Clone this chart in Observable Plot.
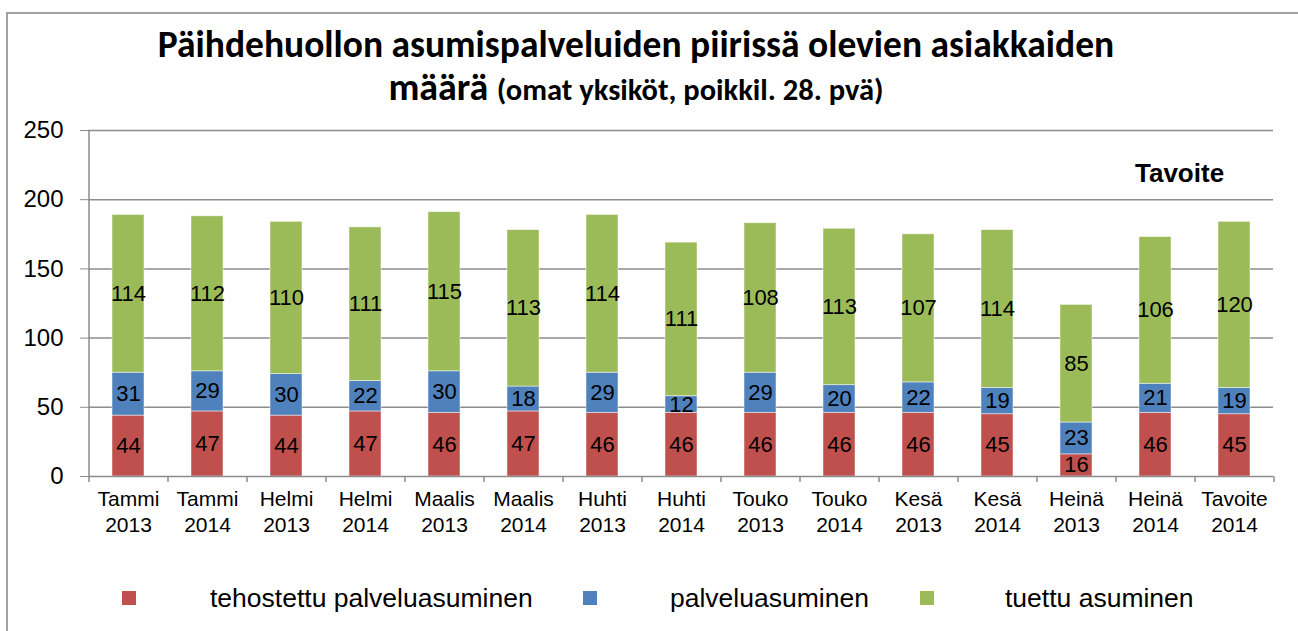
<!DOCTYPE html>
<html>
<head>
<meta charset="utf-8">
<script src="https://cdn.jsdelivr.net/npm/d3@7"></script>
<script src="https://cdn.jsdelivr.net/npm/@observablehq/plot@0.6"></script>
<style>
  html, body { margin: 0; padding: 0; background: #fff; }
  #root { position: relative; width: 1298px; height: 631px; overflow: hidden; font-family: "Liberation Sans", Arial, sans-serif; }
  #frame { position: absolute; left: 6px; top: 12px; width: 1400px; height: 700px; border-top: 2px solid #a3a3a3; border-left: 2px solid #a3a3a3; }
  #title { position: absolute; left: 0; width: 1272px; text-align: center; font-family: Carlito, Lato, "Open Sans", sans-serif; font-weight: bold; color: #000; }
  #title .l1 { position: absolute; left: 0; right: 0; top: 21px; font-size: 37.5px; white-space: nowrap; }
  #title .l2 { position: absolute; left: 0; right: 0; top: 64px; font-size: 38px; white-space: nowrap; }
  #title .l2 small { font-size: 30.5px; }
  #chart { position: absolute; left: 0; top: 100px; }
  #tavoite { position: absolute; left: 1135px; top: 158px; font-weight: bold; font-size: 26px; }
  .leg { position: absolute; top: 583px; font-size: 26.5px; line-height: 30px; white-space: nowrap; }
  .sw { position: absolute; top: 591px; width: 14px; height: 14px; }
</style>
</head>
<body>
<div id="root">
  <div id="frame"></div>
  <div id="title"></div>
  <div id="chart"></div>
  <div id="tavoite"></div>
  <div id="legend"></div>
</div>
<script>
// ---- data ----
const categories = ["Tammi 2013","Tammi 2014","Helmi 2013","Helmi 2014","Maalis 2013","Maalis 2014","Huhti 2013","Huhti 2014","Touko 2013","Touko 2014","Kesä 2013","Kesä 2014","Heinä 2013","Heinä 2014","Tavoite 2014"];
const seriesNames = ["tehostettu palveluasuminen","palveluasuminen","tuettu asuminen"];
const tehostettu = [44,47,44,47,46,47,46,46,46,46,46,45,16,46,45];
const palvelu    = [31,29,30,22,30,18,29,12,29,20,22,19,23,21,19];
const tuettu     = [114,112,110,111,115,113,114,111,108,113,107,114,85,106,120];
const yTicks = [0,50,100,150,200,250];
const titleLine1 = "Päihdehuollon asumispalveluiden piirissä olevien asiakkaiden";
const titleLine2a = "määrä";
const titleLine2b = "(omat yksiköt, poikkil. 28. pvä)";
const annotation = "Tavoite";

// ---- styles / layout ----
const colors = ["#C0504D","#4F81BD","#9BBB59"];
const gridColor = "#8c8c8c";
const W = 1298, H = 440, mL = 88, mR = 25, mT = 30, mB = 64;
const step = (W - mL - mR) / categories.length;

const values = [tehostettu, palvelu, tuettu];
const rows = [];
seriesNames.forEach((s, si) => categories.forEach((c, ci) => rows.push({cat: c, series: s, value: values[si][ci]})));

// title
document.querySelector("#title").innerHTML =
  `<div class="l1">${titleLine1}</div><div class="l2">${titleLine2a} <small>${titleLine2b}</small></div>`;
document.querySelector("#tavoite").textContent = annotation;

const stackOpts = {x: "cat", y: "value", z: "series", order: seriesNames};

const plot = Plot.plot({
  width: W, height: H,
  marginLeft: mL, marginRight: mR, marginTop: mT, marginBottom: mB,
  style: {fontFamily: "'Liberation Sans', Arial, sans-serif", background: "transparent"},
  x: {domain: categories, paddingInner: 0.6, paddingOuter: 0.3, label: null, axis: null},
  y: {domain: [0, 250], label: null, axis: null},
  color: {domain: seriesNames, range: colors},
  marks: [
    Plot.ruleY(yTicks.filter(d => d > 0), {stroke: gridColor, strokeWidth: 1.5}),
    Plot.barY(rows, Plot.stackY({...stackOpts, fill: "series", stroke: "#ffffff", strokeOpacity: 0.6, strokeWidth: 0.8})),
    Plot.text(rows, Plot.stackY({...stackOpts, text: "value", fontSize: 22, fill: "black"})),
    Plot.ruleY([0], {stroke: gridColor, strokeWidth: 1.5}),
    Plot.ruleX([categories[0]], {x: d => d, dx: -step / 2, y1: 0, y2: 250, stroke: gridColor, strokeWidth: 1.5}),
    Plot.ruleX(categories, {x: d => d, dx: -step / 2, y1: 0, y2: 0, insetBottom: -6, stroke: gridColor, strokeWidth: 1.5}),
    Plot.ruleX([categories[categories.length - 1]], {x: d => d, dx: step / 2, y1: 0, y2: 0, insetBottom: -6, stroke: gridColor, strokeWidth: 1.5}),
    Plot.axisY({ticks: yTicks, tickSize: 8, tickPadding: 17, stroke: gridColor, fill: "black", fontSize: 24, label: null}),
    Plot.axisX({tickSize: 0, tickPadding: 12, fill: "black", fontSize: 21, lineHeight: 1.2, tickFormat: d => d.replace(" ", "\n"), label: null})
  ]
});
document.querySelector("#chart").appendChild(plot);

// legend
const legPos = [{sw: 122, tx: 210}, {sw: 583, tx: 670}, {sw: 920, tx: 1005}];
const leg = document.querySelector("#legend");
seriesNames.forEach((s, i) => {
  const sw = document.createElement("div");
  sw.className = "sw"; sw.style.left = legPos[i].sw + "px"; sw.style.background = colors[i];
  const t = document.createElement("div");
  t.className = "leg"; t.style.left = legPos[i].tx + "px"; t.textContent = s;
  leg.appendChild(sw); leg.appendChild(t);
});
</script>
</body>
</html>
